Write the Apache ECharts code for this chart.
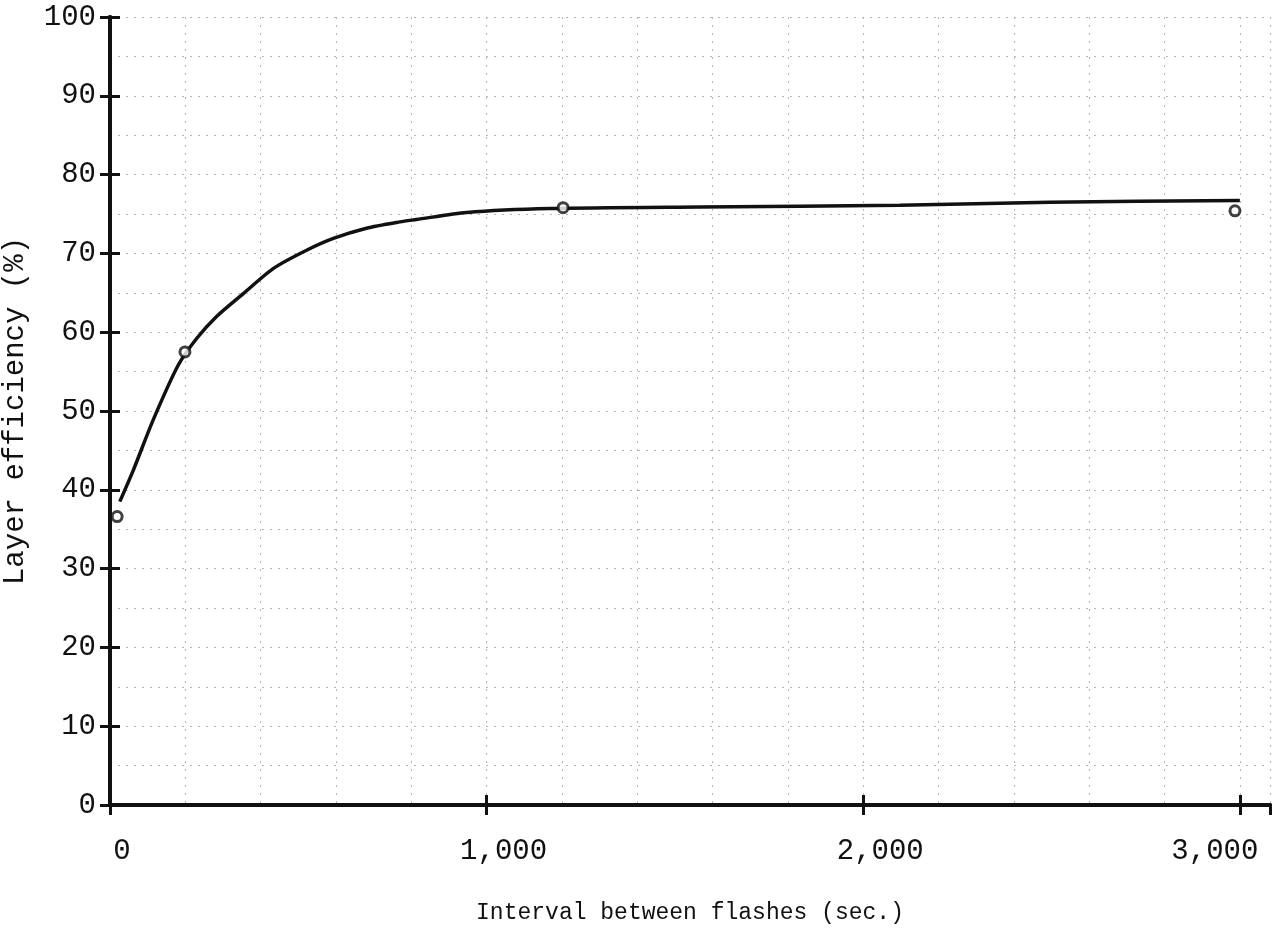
<!DOCTYPE html>
<html>
<head>
<meta charset="utf-8">
<script src="https://cdn.jsdelivr.net/npm/echarts@6/dist/echarts.min.js"></script>
<style>
  html, body { margin: 0; padding: 0; background: #fff; }
  #chart { width: 1282px; height: 952px; }
</style>
</head>
<body>
<div id="chart"></div>
<script>
// hand-drawn curve
var curveX = [26, 62, 115, 181, 230, 283, 354, 434, 522, 593, 681, 770, 814, 947, 1168, 1566, 2097, 2495, 3000];
var curveY = [38.5, 42.5, 48.9, 55.8, 59.2, 62.0, 64.9, 68.1, 70.4, 71.9, 73.2, 74.0, 74.3, 75.2, 75.7, 75.9, 76.1, 76.5, 76.7];

// measured points (small open circles)
var pointX = [19, 199, 1203, 2987];
var pointY = [36.6, 57.5, 75.8, 75.4];

var xTicks = [0, 1000, 2000, 3000];
var xTickNames = ['a', 'b', 'b', 'c'];

var font = '"Liberation Mono", "DejaVu Sans Mono", monospace';

var curveData = curveX.map(function (x, i) { return [x, curveY[i]]; });
var pointData = pointX.map(function (x, i) { return [x, pointY[i]]; });

var chart = echarts.init(document.getElementById('chart'));
var gridLine = { show: true, lineStyle: { color: '#b5b5b5', width: 1, type: [2, 6] } };
var labelText = { fontFamily: font, fontSize: 29, color: '#111' };
var option = {
    backgroundColor: '#fff',
    animation: false,
    grid: { left: 110, right: 12, top: 17, bottom: 147, outerBoundsMode: 'none', containLabel: false },
    xAxis: [
        {
            type: 'value',
            min: 0,
            max: 3080,
            interval: 1000,
            name: 'Interval between flashes (sec.)',
            nameLocation: 'middle',
            nameGap: 96,
            nameTextStyle: { fontFamily: font, fontSize: 23, color: '#111' },
            axisLine: { lineStyle: { color: '#111', width: 4 } },
            axisTick: { inside: true, length: 10, lineStyle: { color: '#111', width: 3 } },
            axisLabel: {
                fontFamily: font, fontSize: 29, color: '#111', margin: 32, showMaxLabel: false,
                formatter: function (v) {
                    var k = xTicks.indexOf(v);
                    if (k < 0) return '';
                    return '{' + xTickNames[k] + '|' + v.toLocaleString('en-US') + '}';
                },
                rich: {
                    a: Object.assign({ padding: [0, 0, 0, 24] }, labelText),
                    b: Object.assign({ padding: [0, 0, 0, 34] }, labelText),
                    c: Object.assign({ padding: [0, 50, 0, 0] }, labelText)
                }
            },
            splitLine: gridLine,
            minorTick: { show: false, splitNumber: 5 },
            minorSplitLine: gridLine
        },
        {
            type: 'value',
            position: 'top',
            min: 0,
            max: 3080,
            interval: 1000,
            axisLine: { show: true, lineStyle: { color: '#111', width: 4 } },
            axisTick: { show: true, inside: true, length: 10, lineStyle: { color: '#111', width: 3 } },
            axisLabel: { show: false },
            splitLine: { show: false }
        }
    ],
    yAxis: [
        {
            type: 'value',
            min: 0,
            max: 100,
            interval: 10,
            name: 'Layer efficiency (%)',
            nameLocation: 'middle',
            nameGap: 80,
            nameTextStyle: { fontFamily: font, fontSize: 29, color: '#111' },
            axisLine: { show: true, lineStyle: { color: '#111', width: 4 } },
            axisTick: { show: true, inside: true, length: 10, lineStyle: { color: '#111', width: 3 } },
            axisLabel: { fontFamily: font, fontSize: 29, color: '#111', margin: 14 },
            splitLine: gridLine,
            minorTick: { show: false, splitNumber: 2 },
            minorSplitLine: gridLine
        },
        {
            type: 'value',
            position: 'right',
            min: 0,
            max: 100,
            interval: 10,
            axisLine: { show: true, lineStyle: { color: '#111', width: 4 } },
            axisTick: { show: true, inside: true, length: 10, lineStyle: { color: '#111', width: 3 } },
            axisLabel: { show: false },
            splitLine: { show: false }
        }
    ],
    series: [
        {
            name: 'curve',
            type: 'line',
            smooth: 0.25,
            showSymbol: false,
            data: curveData,
            lineStyle: { color: '#111', width: 3.5 },
            z: 2
        },
        {
            name: 'points',
            type: 'scatter',
            data: pointData,
            symbol: 'circle',
            symbolSize: 10,
            itemStyle: { color: '#fff', borderColor: '#111', borderWidth: 3 },
            z: 3
        }
    ]
};
chart.setOption(option);
</script>
</body>
</html>
